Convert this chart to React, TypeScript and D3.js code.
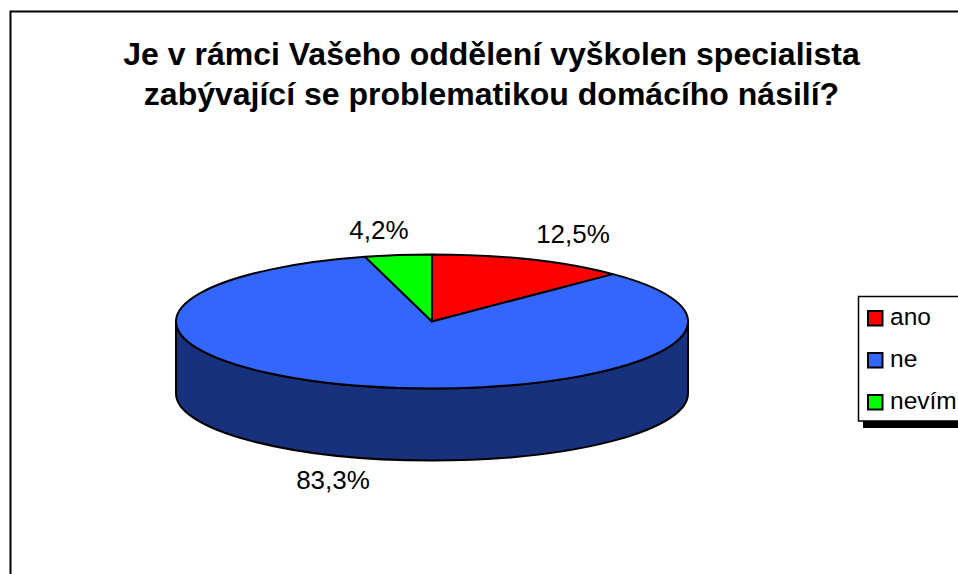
import React from "react";
import * as d3 from "d3";

const categories = ["ano", "ne", "nevím"];
const values = [12.5, 83.3, 4.2];
const labels = ["12,5%", "83,3%", "4,2%"];
const colors = ["#FF0000", "#3366FF", "#00FF00"];
const titleLines = [
  "Je v rámci Vašeho oddělení vyškolen specialista",
  "zabývající se problematikou domácího násilí?",
];
const FONT = "'Liberation Sans', Arial, sans-serif";

const cx = 432;
const cy = 321.5;
const rx = 256;
const ry = 67;
const depth = 72;

export default function App() {
  const arcs = d3.pie<number>().sort(null)(values);
  const arc = d3.arc<d3.PieArcDatum<number>>().innerRadius(0).outerRadius(1);
  const rimX = d3.scaleLinear().domain([-1, 1]).range([cx - rx, cx + rx]);
  const rimY = d3.scaleLinear().domain([-1, 1]).range([cy - ry, cy + ry]);
  const side = `M${rimX(-1)},${rimY(0)} A${rx},${ry} 0 0 0 ${rimX(1)},${rimY(0)} L${rimX(1)},${rimY(0) + depth} A${rx},${ry} 0 0 1 ${rimX(-1)},${rimY(0) + depth} Z`;
  const labelPos = [
    [573, 243],
    [333, 489],
    [379, 239],
  ];
  const legendRows = [318, 360, 402];
  return (
    <svg
      width={958}
      height={574}
      viewBox="0 0 958 574"
      style={{ position: "fixed", left: 0, top: 0, background: "#fff" }}
    >
      <rect x={10.5} y={11.5} width={1000} height={700} fill="#fff" stroke="#000" strokeWidth={2} />
      {titleLines.map((t, i) => (
        <text key={i} x={491.5} y={64.5 + i * 40.5} textAnchor="middle" fontFamily={FONT} fontWeight="bold" fontSize={32} fill="#000">
          {t}
        </text>
      ))}
      <path d={side} fill="#17317C" stroke="#000" strokeWidth={2} strokeLinejoin="round" />
      <g transform={`translate(${cx},${cy}) scale(${rx},${ry})`}>
        {arcs.map((a, i) => (
          <path
            key={i}
            d={arc(a) ?? ""}
            fill={colors[i]}
            stroke="#000"
            strokeWidth={2}
            strokeLinejoin="round"
            vectorEffect="non-scaling-stroke"
          />
        ))}
      </g>
      {labels.map((l, i) => (
        <text key={i} x={labelPos[i][0]} y={labelPos[i][1]} textAnchor="middle" fontFamily={FONT} fontSize={26} fill="#000">
          {l}
        </text>
      ))}
      <rect x={863} y={302} width={120} height={126} fill="#000" />
      <rect x={858.5} y={296.5} width={120} height={124.5} fill="#fff" stroke="#000" strokeWidth={1.5} />
      {categories.map((c, i) => (
        <g key={c}>
          <rect x={868} y={legendRows[i] - 7} width={14.5} height={14.5} fill={colors[i]} stroke="#000" strokeWidth={2} />
          <text x={890} y={legendRows[i] + 7} fontFamily={FONT} fontSize={24.5} fill="#000">
            {c}
          </text>
        </g>
      ))}
    </svg>
  );
}
